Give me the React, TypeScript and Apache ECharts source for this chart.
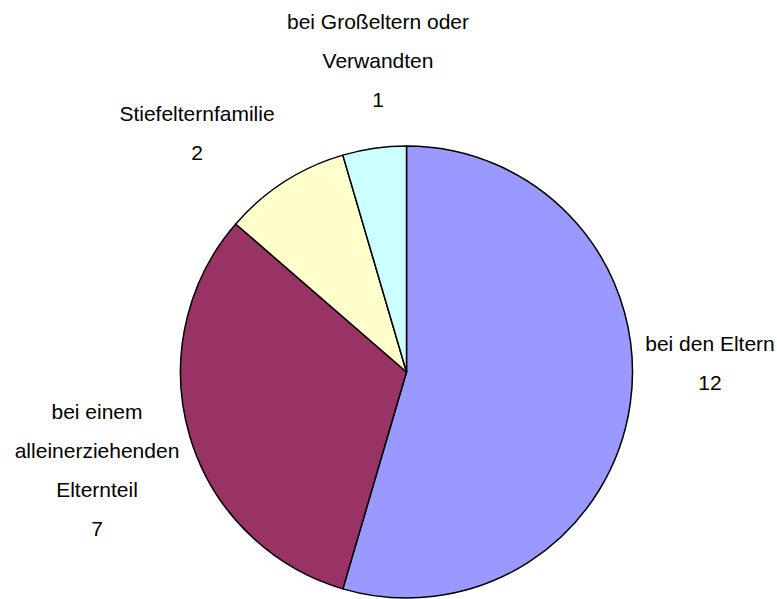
import React, { useEffect, useRef } from "react";
import * as echarts from "echarts";

const categories = [
  "bei den Eltern",
  "bei einem\nalleinerziehenden\nElternteil",
  "Stiefelternfamilie",
  "bei Großeltern oder\nVerwandten",
];
const values = [12, 7, 2, 1];
const colors = ["#9999FF", "#993366", "#FFFFCC", "#CCFFFF"];
const labelCenters: [number, number][] = [
  [710, 363],
  [97, 469.5],
  [197, 132.5],
  [378, 60],
];

export default function App() {
  const ref = useRef<HTMLDivElement>(null);
  useEffect(() => {
    if (!ref.current) return;
    const chart = echarts.init(ref.current, undefined, { renderer: "svg" });
    chart.setOption({
      animation: false,
      backgroundColor: "#ffffff",
      series: [
        {
          type: "pie",
          center: [406.5, 372],
          radius: 226,
          startAngle: 90,
          clockwise: true,
          avoidLabelOverlap: false,
          data: categories.map((name, i) => ({
            name,
            value: values[i],
            itemStyle: { color: colors[i] },
          })),
          itemStyle: { borderColor: "#000000", borderWidth: 1.5 },
          label: {
            show: true,
            position: "outside",
            formatter: "{b}\n{c}",
            fontFamily: "'Liberation Sans', Arial, sans-serif",
            fontSize: 21,
            lineHeight: 39,
            color: "#000000",
            align: "center",
          },
          labelLine: { show: false },
          labelLayout: (params: any) => {
            const p = labelCenters[params.dataIndex];
            return { x: p[0], y: p[1], align: "center", verticalAlign: "middle" };
          },
          emphasis: { disabled: true },
        },
      ],
    });
    return () => chart.dispose();
  }, []);
  return (
    <div
      ref={ref}
      style={{ position: "fixed", left: 0, top: 0, width: 777, height: 599 }}
    />
  );
}
